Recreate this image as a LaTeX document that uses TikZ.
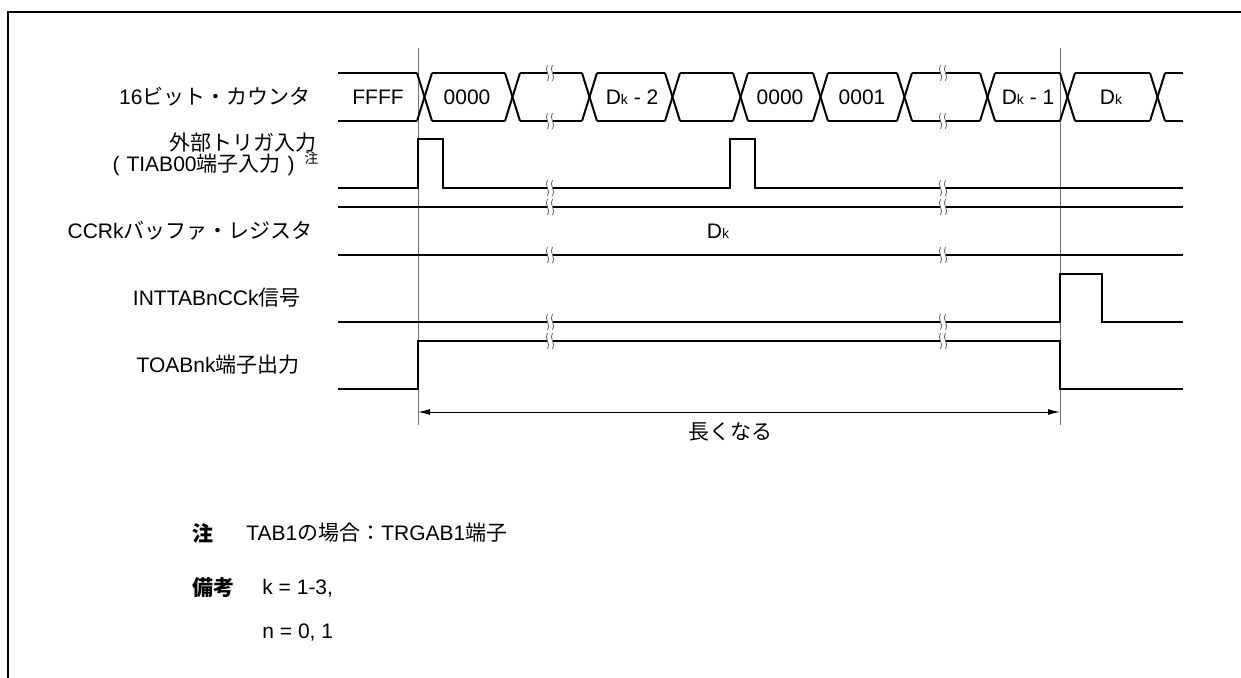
\documentclass[tikz,border=0pt]{standalone}
\usepackage{fontspec}
\setmainfont{Liberation Sans}
\newfontfamily\jp{Noto Sans CJK JP}
\usetikzlibrary{arrows.meta}
\newcommand{\ja}[1]{{\jp #1}}
\newcommand{\Dk}{D{\fontsize{7}{8}\selectfont k}}
%% break mark: x, y
\newcommand{\brkmark}[2]{%
  \fill[white] (#1-2.5,#2-8) rectangle (#1+2.5,#2+8);
  \draw[brk] (#1-2.5,#2-8) .. controls (#1-6.5,#2-3) and (#1+1.5,#2+3) .. (#1-2.5,#2+8);
  \draw[brk] (#1+2.5,#2-8) .. controls (#1-1.5,#2-3) and (#1+6.5,#2+3) .. (#1+2.5,#2+8);
}

\begin{document}
\begin{tikzpicture}[x=0.5pt,y=-0.5pt,
    font=\fontsize{10.5}{13}\selectfont,
    sig/.style={line width=1pt,line join=miter},
    guide/.style={line width=0.5pt,black!55},
    brk/.style={line width=0.4pt,black!60},
    frame/.style={line width=0.85pt},
    lbl/.style={anchor=east,inner sep=0pt},
    val/.style={inner sep=0pt}]
  \useasboundingbox (0,0) rectangle (1241,678);
  \draw[frame] (8,678) -- (8,12) -- (1241,12);

  %% ── signal names ──
  \node[lbl] (cntname) at (311,97) {16\ja{ビット・カウンタ}};
  \node[lbl] (trgname) at (317,143) {\ja{外部トリガ入力}};
  \node[lbl] (trgpin) at (295,165) {(\,\,TIAB00\ja{端子入力}\,\,)};
  \node[anchor=west,inner sep=0pt,font=\fontsize{7}{8}\selectfont]
    (trgnote) at (304,158) {\ja{注}};
  \node[lbl] (ccrname) at (313,231) {CCRk\ja{バッファ・レジスタ}};
  \node[lbl] (intname) at (301,298) {INTTABnCCk\ja{信号}};
  \node[lbl] (toname) at (300,365) {TOABnk\ja{端子出力}};

  %% ── guide lines ──
  \draw[guide] (418,48) -- (418,425);
  \draw[guide] (1060,48) -- (1060,425);

  %% ── 16-bit counter ──
  \foreach \l [remember=\l as \p (initially 323)] in {417,505,582,665,733,813,897,980,1060,1150} {
    \draw[sig] (\p+15,73) -- (\l,73);
    \draw[sig] (\p+15,121) -- (\l,121);
    \draw[sig] (\l,73) -- (\l+15,121);
    \draw[sig] (\l,121) -- (\l+15,73);
  }
  \draw[sig] (1165,73) -- (1183,73);
  \draw[sig] (1165,121) -- (1183,121);
  \foreach \c/\t in {378/FFFF,467/0000,632/{\Dk\ -\ 2},780/0000,862/0001,1028/{\Dk\ -\ 1},1111/\Dk}
    \node[val] at (\c,97) {\t};

  %% ── external trigger ──
  \draw[sig] (338,188) -- (418,188) -- (418,139) -- (443,139) -- (443,188)
    -- (730,188) -- (730,139) -- (755,139) -- (755,188) -- (1183,188);

  %% ── CCRk buffer ──
  \draw[sig] (338,207) -- (1183,207);
  \draw[sig] (338,255) -- (1183,255);
  \node[val] (ccrval) at (718,231) {\Dk};

  %% ── INTTABnCCk ──
  \draw[sig] (338,322) -- (1060,322) -- (1060,274) -- (1102,274) -- (1102,322) -- (1183,322);

  %% ── TOABnk ──
  \draw[sig] (338,389) -- (418,389) -- (418,341) -- (1060,341) -- (1060,389) -- (1183,389);

  %% ── break marks ──
  \foreach \x in {550,943}
    \foreach \y in {73,121,188,207,255,322,341}
      \brkmark{\x}{\y};

  %% ── length arrow ──
  \coordinate (arrL) at (418,412);
  \coordinate (arrR) at (1060,412);
  \draw[line width=0.5pt,{Latex[length=6pt,width=3pt]}-{Latex[length=6pt,width=3pt]}] (arrL) -- (arrR);
  \node[val] (arrlbl) at (730,432) {\ja{長くなる}};

  %% ── notes ──
  \node[anchor=west,inner sep=0pt] (notehd) at (192,533) {\ja{\bfseries 注}};
  \node[anchor=west,inner sep=0pt] (notetx) at (246,533) {TAB1\ja{の場合：}TRGAB1\ja{端子}};
  \node[anchor=west,inner sep=0pt] (remhd) at (192,588) {\ja{\bfseries 備考}};
  \node[anchor=west,inner sep=0pt] (remk) at (262,588) {k = 1-3,};
  \node[anchor=west,inner sep=0pt] (remn) at (262,633) {n = 0, 1};
\end{tikzpicture}
\end{document}
